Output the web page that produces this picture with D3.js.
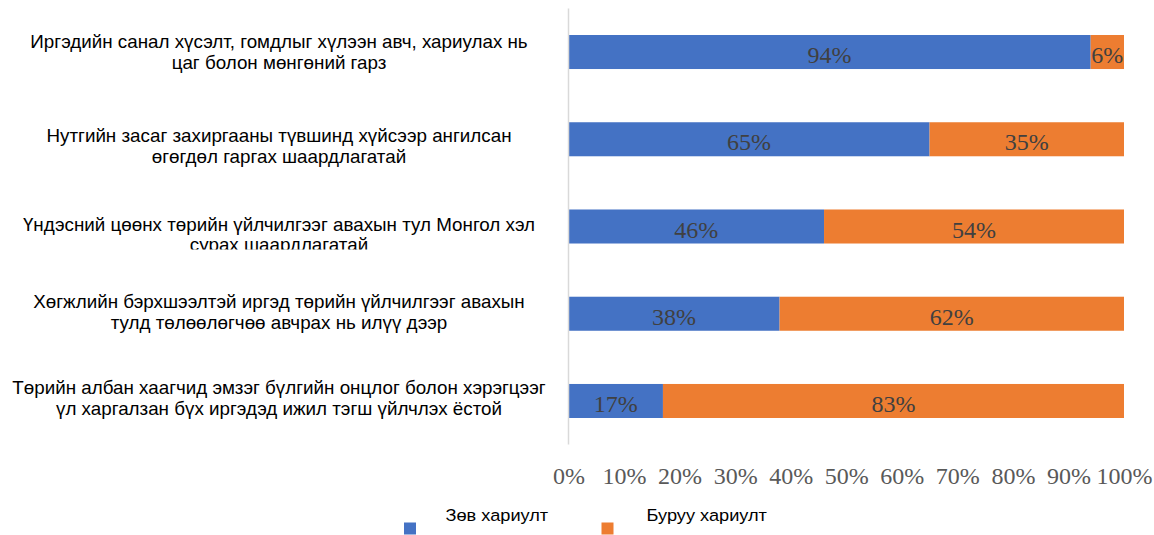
<!DOCTYPE html>
<html><head><meta charset="utf-8">
<script src="https://cdn.jsdelivr.net/npm/d3@7"></script>
<style>body{margin:0;background:#fff}svg{display:block}</style>
</head><body>
<svg id="c" width="1154" height="535"></svg>
<script>
const categories = [
  "Иргэдийн санал хүсэлт, гомдлыг хүлээн авч, хариулах нь\nцаг болон мөнгөний гарз",
  "Нутгийн засаг захиргааны түвшинд хүйсээр ангилсан\nөгөгдөл гаргах шаардлагатай",
  "Үндэсний цөөнх төрийн үйлчилгээг авахын тул Монгол хэл\nсурах шаардлагатай",
  "Хөгжлийн бэрхшээлтэй иргэд төрийн үйлчилгээг авахын\nтулд төлөөлөгчөө авчрах нь илүү дээр",
  "Төрийн албан хаагчид эмзэг бүлгийн онцлог болон хэрэгцээг\nүл харгалзан бүх иргэдэд ижил тэгш үйлчлэх ёстой"
];
const correct = [0.94, 0.65, 0.46, 0.38, 0.17];
const wrong   = [0.06, 0.35, 0.54, 0.62, 0.83];
const seriesNames = ["Зөв хариулт", "Буруу хариулт"];
const tickValues = [0, 0.1, 0.2, 0.3, 0.4, 0.5, 0.6, 0.7, 0.8, 0.9, 1.0];

const colors = ["#4472C4", "#ED7D31"];
// vertical layout tweak of the wrapped category labels (px)
const labelShift = [0, 7, 8.5, -1.5, -2.5];

const svg = d3.select("#c");
const x = d3.scaleLinear().domain([0, 1]).range([568.5, 1124]);
const y = d3.scaleBand().domain(d3.range(categories.length)).range([8.4, 444.6])
  .paddingInner(0.61).paddingOuter(0.305);

const rows = categories.map((c, i) => ({i, vals: [correct[i], wrong[i]]}));

// bars
rows.forEach(r => {
  let acc = 0;
  r.vals.forEach((v, s) => {
    svg.append("rect")
      .attr("x", x(acc)).attr("y", y(r.i))
      .attr("width", x(acc + v) - x(acc)).attr("height", y.bandwidth())
      .attr("fill", colors[s]);
    svg.append("text")
      .attr("x", x(acc + v / 2)).attr("y", y(r.i) + y.bandwidth() / 2 + 11)
      .attr("text-anchor", "middle")
      .attr("font-family", "Liberation Serif, serif").attr("font-size", 24)
      .attr("fill", "#404040")
      .text(d3.format(".0%")(v));
    acc += v;
  });
});

// vertical axis line
svg.append("line").attr("x1", 568.5).attr("x2", 568.5)
  .attr("y1", y.range()[0]).attr("y2", y.range()[1])
  .attr("stroke", "#d9d9d9").attr("stroke-width", 1.5);

// x axis tick labels
const xAxis = d3.axisBottom(x).tickValues(tickValues).tickFormat(d3.format(".0%")).tickSize(0).tickPadding(0);
const gx = svg.append("g").attr("transform", "translate(0,466)").call(xAxis);
gx.select(".domain").remove();
gx.selectAll("text").attr("font-family", "Liberation Serif, serif").attr("font-size", 24)
  .attr("fill", "#595959").attr("dy", "0.75em");

// category labels
const defs = svg.append("defs");
categories.forEach((c, i) => {
  const lines = c.split("\n");
  const cy = y(i) + y.bandwidth() / 2;
  const g = svg.append("g");
  if (i === 2) {
    defs.append("clipPath").attr("id", "clip" + i).append("rect")
      .attr("x", 0).attr("y", cy - 30).attr("width", 560).attr("height", 53);
    g.attr("clip-path", "url(#clip" + i + ")");
  }
  const t = g.append("g").attr("transform", "translate(279,0) scale(1.045,1)")
    .append("text")
    .attr("font-family", "Liberation Sans, Arial, sans-serif").attr("font-size", 18)
    .attr("fill", "#000").attr("text-anchor", "middle");
  lines.forEach((ln, k) => {
    t.append("tspan").attr("x", 0)
      .attr("y", cy - 10.5 + labelShift[i] + k * 20.5 + 6.5)
      .text(ln);
  });
});

// legend
const legX = [404, 601.5];
seriesNames.forEach((n, s) => {
  svg.append("rect").attr("x", legX[s]).attr("y", 522.5).attr("width", 12).attr("height", 12)
    .attr("fill", colors[s]);
  svg.append("g").attr("transform", `translate(${legX[s] + 41.5 + s * 3.5},521) scale(1.07,1)`)
    .append("text").attr("x", 0).attr("y", 0)
    .attr("font-family", "Liberation Sans, Arial, sans-serif").attr("font-size", 17)
    .attr("fill", "#000").text(n);
});
</script>
</body></html>
